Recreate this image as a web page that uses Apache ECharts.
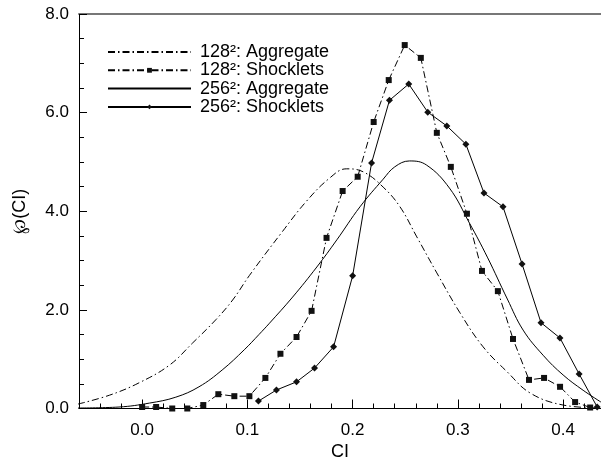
<!DOCTYPE html>
<html><head><meta charset="utf-8">
<script src="https://cdn.jsdelivr.net/npm/echarts@6/dist/echarts.min.js"></script>
<style>html,body{margin:0;padding:0;background:#fff}#c{width:601px;height:472px}</style>
</head><body><div id="c"></div>
<script>
// ---- data ----
const xMajorTicks = [0.0, 0.1, 0.2, 0.3, 0.4];
const yTicks = [0, 2, 4, 6, 8];

const seriesNames = ['128\u00B2: Aggregate', '128\u00B2: Shocklets', '256\u00B2: Aggregate', '256\u00B2: Shocklets'];

const agg128X = [-0.061, -0.031, -0.003, 0.026, 0.048, 0.070, 0.086, 0.102, 0.133, 0.156, 0.178, 0.194, 0.210, 0.229, 0.245, 0.261, 0.280, 0.302, 0.324, 0.347, 0.369, 0.400, 0.436];
const agg128Y = [0.09, 0.27, 0.52, 0.88, 1.33, 1.80, 2.20, 2.70, 3.58, 4.20, 4.67, 4.86, 4.80, 4.49, 4.09, 3.48, 2.75, 1.94, 1.25, 0.74, 0.31, 0.07, 0.01];

const sh128X = [0.0, 0.0133, 0.0286, 0.0429, 0.0581, 0.0724, 0.0876, 0.1019, 0.1171, 0.1314, 0.1467, 0.161, 0.1752, 0.1905, 0.2048, 0.22, 0.2343, 0.2495, 0.2648, 0.28, 0.2933, 0.3086, 0.3229, 0.338, 0.3524, 0.3676, 0.3819, 0.3971, 0.4114, 0.4257];
const sh128Y = [0.03, 0.03, 0.0, 0.0, 0.07, 0.29, 0.25, 0.25, 0.62, 1.11, 1.45, 1.98, 3.46, 4.41, 4.70, 5.81, 6.66, 7.37, 7.11, 5.59, 4.90, 3.95, 2.79, 2.38, 1.41, 0.58, 0.62, 0.44, 0.13, 0.02];

const agg256X = [-0.061, -0.022, 0.007, 0.032, 0.054, 0.076, 0.097, 0.111, 0.121, 0.143, 0.166, 0.185, 0.207, 0.229, 0.240, 0.254, 0.270, 0.292, 0.311, 0.328, 0.347, 0.362, 0.381, 0.400, 0.419, 0.436];
const agg256Y = [0.01, 0.03, 0.11, 0.23, 0.44, 0.78, 1.19, 1.50, 1.73, 2.26, 2.87, 3.42, 4.09, 4.65, 4.90, 5.02, 4.94, 4.47, 3.76, 3.07, 2.22, 1.59, 1.08, 0.68, 0.37, 0.13];

const sh256X = [0.1105, 0.1276, 0.1467, 0.1638, 0.1819, 0.2, 0.218, 0.235, 0.2533, 0.2714, 0.2895, 0.3076, 0.3248, 0.3429, 0.361, 0.379, 0.397, 0.4152, 0.4324];
const sh256Y = [0.15, 0.375, 0.54, 0.82, 1.25, 2.69, 4.98, 6.25, 6.58, 6.01, 5.73, 5.36, 4.37, 4.09, 2.93, 1.74, 1.43, 0.70, 0.03];

// ---- chart ----
const zip = (xs, ys) => xs.map((x, i) => [x, ys[i]]);
const FONT = 'Liberation Sans, Arial, Helvetica, sans-serif';
const dashDot = [7, 3, 1.5, 3];
const chart = echarts.init(document.getElementById('c'), null, {renderer: 'canvas'});
const XMIN = -0.06, XMAX = 0.436;
const hiddenSym = {color: 'rgba(0,0,0,0)', borderColor: 'rgba(0,0,0,0)', borderWidth: 0};

chart.setOption({
  animation: false,
  backgroundColor: '#fff',
  grid: {left: 79, right: 0, top: 14, bottom: 63.5},
  legend: {
    orient: 'vertical', left: 102, top: 38,
    itemWidth: 83, itemHeight: 6, itemGap: 0.3,
    textStyle: {fontFamily: FONT, fontSize: 18, lineHeight: 18, color: '#000', padding: [0, 0, 0, 4]},
    data: [
      {name: seriesNames[0], itemStyle: hiddenSym},
      {name: seriesNames[1]},
      {name: seriesNames[2], itemStyle: hiddenSym},
      {name: seriesNames[3]}
    ]
  },
  xAxis: [
    {
      type: 'value', min: XMIN, max: XMAX, position: 'bottom',
      axisLine: {show: true, onZero: false, lineStyle: {color: '#000', width: 1}},
      axisTick: {show: true, inside: true, length: 9, customValues: xMajorTicks, lineStyle: {color: '#000'}},
      axisLabel: {customValues: xMajorTicks, formatter: v => v.toFixed(1), fontFamily: FONT, fontSize: 17, color: '#000', margin: 13},
      splitLine: {show: false},
      name: 'CI', nameLocation: 'middle', nameGap: 35,
      nameTextStyle: {fontFamily: FONT, fontSize: 18, color: '#000'}
    },
    {
      type: 'value', min: XMIN, max: XMAX, interval: 0.02, position: 'bottom',
      axisLine: {show: false, onZero: false},
      axisTick: {show: true, inside: true, length: 5, lineStyle: {color: '#000'}},
      axisLabel: {show: false},
      splitLine: {show: false}
    },
    {
      type: 'value', min: XMIN, max: XMAX, position: 'top',
      axisLine: {show: true, onZero: false, lineStyle: {color: '#777', width: 2}},
      axisTick: {show: false}, axisLabel: {show: false}, splitLine: {show: false}
    }
  ],
  yAxis: {
    type: 'value', min: 0, max: 8, interval: 2, position: 'left',
    axisLine: {show: true, onZero: false, lineStyle: {color: '#000', width: 1}},
    axisTick: {show: true, inside: true, length: 8, lineStyle: {color: '#000'}},
    minorTick: {show: true, splitNumber: 4, length: 5, lineStyle: {color: '#000'}},
    axisLabel: {formatter: v => v.toFixed(1), fontFamily: FONT, fontSize: 17, color: '#000', margin: 10},
    splitLine: {show: false},
    name: '\u2118(CI)', nameLocation: 'middle', nameGap: 50, nameRotate: 90,
    nameTextStyle: {fontFamily: FONT, fontSize: 18, color: '#000'}
  },
  series: [
    {name: seriesNames[0], type: 'line', data: zip(agg128X, agg128Y), smooth: 0.4, symbol: 'none',
     lineStyle: {color: '#000', width: 1, type: dashDot}, itemStyle: {color: '#000'}},
    {name: seriesNames[1], type: 'line', data: zip(sh128X, sh128Y), symbol: 'rect', symbolSize: 6,
     lineStyle: {color: '#000', width: 1, type: dashDot}, itemStyle: {color: '#111'}},
    {name: seriesNames[2], type: 'line', data: zip(agg256X, agg256Y), smooth: 0.4, symbol: 'none',
     lineStyle: {color: '#000', width: 1}, itemStyle: {color: '#000'}},
    {name: seriesNames[3], type: 'line', data: zip(sh256X, sh256Y), symbol: 'diamond', symbolSize: 7,
     lineStyle: {color: '#000', width: 1}, itemStyle: {color: '#111'}}
  ]
});
</script></body></html>
